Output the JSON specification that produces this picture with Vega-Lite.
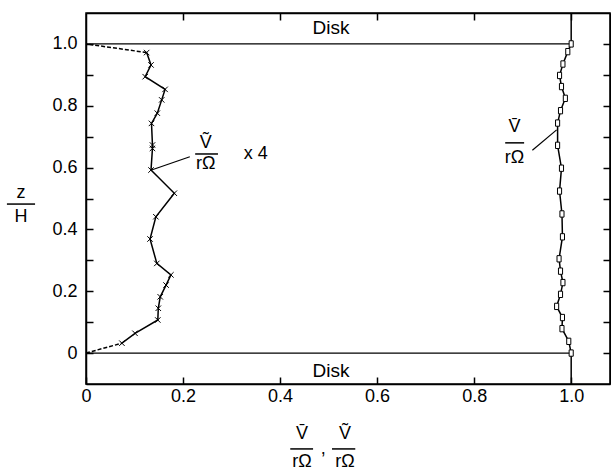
{
  "$schema": "https://vega.github.io/schema/vega-lite/v6.json",
  "width": 524,
  "height": 371,
  "autosize": {"type": "none"},
  "padding": {"left": 86, "top": 13, "right": 1, "bottom": 86},
  "background": "white",
  "config": {
    "font": "Liberation Sans",
    "view": {"stroke": "black", "strokeWidth": 1.5},
    "axis": {
      "domainColor": "black", "domainWidth": 1.5,
      "tickColor": "black", "tickWidth": 1.5,
      "labelColor": "black", "labelFont": "Liberation Sans", "labelFontSize": 18,
      "labelOverlap": false, "labelFlush": false, "grid": false, "title": null
    }
  },
  "resolve": {"axis": {"x": "independent", "y": "independent"}},
  "datasets": {
    "disk": [{"x": 0, "x2": 1, "z": 0}, {"x": 0, "x2": 1, "z": 1}],
    "wall": [{"x": 1, "z": 1, "z2": 1.1}, {"x": 1, "z": -0.1, "z2": 0}],
    "vtilde": [
      {"x": 0.125, "z": 0.972}, {"x": 0.134, "z": 0.932}, {"x": 0.122, "z": 0.894},
      {"x": 0.163, "z": 0.853}, {"x": 0.156, "z": 0.819}, {"x": 0.147, "z": 0.776},
      {"x": 0.135, "z": 0.743}, {"x": 0.137, "z": 0.673}, {"x": 0.137, "z": 0.662},
      {"x": 0.134, "z": 0.592}, {"x": 0.182, "z": 0.517}, {"x": 0.144, "z": 0.441},
      {"x": 0.132, "z": 0.369}, {"x": 0.146, "z": 0.29}, {"x": 0.175, "z": 0.253},
      {"x": 0.165, "z": 0.22}, {"x": 0.153, "z": 0.182}, {"x": 0.149, "z": 0.145},
      {"x": 0.148, "z": 0.107}, {"x": 0.101, "z": 0.064}, {"x": 0.074, "z": 0.032}
    ],
    "vtildeEnds": [
      {"seg": "top", "x": 0, "z": 1}, {"seg": "top", "x": 0.125, "z": 0.972},
      {"seg": "bottom", "x": 0.074, "z": 0.032}, {"seg": "bottom", "x": 0, "z": 0}
    ],
    "vbar": [
      {"x": 1.0, "z": 1.0}, {"x": 0.993, "z": 0.975}, {"x": 0.983, "z": 0.935},
      {"x": 0.976, "z": 0.898}, {"x": 0.98, "z": 0.862}, {"x": 0.988, "z": 0.824},
      {"x": 0.978, "z": 0.784}, {"x": 0.972, "z": 0.744}, {"x": 0.972, "z": 0.672},
      {"x": 0.98, "z": 0.598}, {"x": 0.976, "z": 0.524}, {"x": 0.981, "z": 0.45},
      {"x": 0.982, "z": 0.376}, {"x": 0.975, "z": 0.305}, {"x": 0.978, "z": 0.265},
      {"x": 0.983, "z": 0.228}, {"x": 0.978, "z": 0.19}, {"x": 0.97, "z": 0.151},
      {"x": 0.982, "z": 0.115}, {"x": 0.981, "z": 0.079}, {"x": 0.995, "z": 0.038},
      {"x": 1.0, "z": 0.0}
    ],
    "leaders": [
      {"x": 0.135, "z": 0.592, "x2": 0.214, "z2": 0.635},
      {"x": 0.92, "z": 0.656, "x2": 0.97, "z2": 0.722}
    ],
    "bars": [
      {"x": 0.225, "x2": 0.272, "z": 0.644},
      {"x": 0.864, "x2": 0.903, "z": 0.68},
      {"x": 0.421, "x2": 0.468, "z": -0.31},
      {"x": 0.507, "x2": 0.555, "z": -0.31},
      {"x": -0.163, "x2": -0.105, "z": 0.482}
    ],
    "disklabels": [{"x": 0.505, "z": 1.05, "t": "Disk"}, {"x": 0.505, "z": -0.058, "t": "Disk"}],
    "fractions": [
      {"x": 0.247, "z": 0.678, "t": "Ṽ"}, {"x": 0.247, "z": 0.61, "t": "rΩ"},
      {"x": 0.883, "z": 0.73, "t": "V̄"}, {"x": 0.883, "z": 0.63, "t": "rΩ"},
      {"x": 0.445, "z": -0.262, "t": "V̄"}, {"x": 0.445, "z": -0.352, "t": "rΩ"},
      {"x": 0.534, "z": -0.262, "t": "Ṽ"}, {"x": 0.534, "z": -0.352, "t": "rΩ"},
      {"x": -0.134, "z": 0.517, "t": "z"}, {"x": -0.134, "z": 0.441, "t": "H"}
    ],
    "notes": [{"x": 0.325, "z": 0.644, "t": "x  4"}],
    "comma": [{"x": 0.489, "z": -0.325, "t": ","}]
  },
  "encoding": {
    "x": {"field": "x", "type": "quantitative", "scale": {"domain": [0, 1.08], "nice": false, "zero": false}, "axis": null},
    "y": {"field": "z", "type": "quantitative", "scale": {"domain": [-0.1, 1.1], "nice": false, "zero": false}, "axis": null}
  },
  "layer": [
    {
      "data": {"name": "disk"},
      "mark": {"type": "rule", "color": "black", "strokeWidth": 1.2},
      "encoding": {
        "x": {
          "field": "x", "type": "quantitative",
          "scale": {"domain": [0, 1.08], "nice": false, "zero": false},
          "axis": {
            "orient": "bottom", "values": [0, 0.2, 0.4, 0.6, 0.8, 1],
            "labelExpr": "datum.value == 0 ? '0' : format(datum.value, '.1f')",
            "tickSize": -7, "labelPadding": 10
          }
        },
        "x2": {"field": "x2"},
        "y": {
          "field": "z", "type": "quantitative",
          "scale": {"domain": [-0.1, 1.1], "nice": false, "zero": false},
          "axis": {
            "orient": "left", "values": [0, 0.1, 0.2, 0.3, 0.4, 0.5, 0.6, 0.7, 0.8, 0.9, 1],
            "labelExpr": "round(datum.value * 10) % 2 == 0 ? (datum.value == 0 ? '0' : format(datum.value, '.1f')) : ''",
            "tickSize": -7, "labelPadding": 16
          }
        }
      }
    },
    {
      "data": {"name": "wall"},
      "mark": {"type": "rule", "color": "black", "strokeWidth": 1.5},
      "encoding": {
        "x": {
          "field": "x", "type": "quantitative",
          "scale": {"domain": [0, 1.08], "nice": false, "zero": false},
          "axis": {"orient": "top", "values": [0.2, 0.4, 0.6, 0.8, 1], "labels": false, "tickSize": -7}
        },
        "y": {
          "field": "z", "type": "quantitative",
          "scale": {"domain": [-0.1, 1.1], "nice": false, "zero": false},
          "axis": {"orient": "right", "values": [0, 0.1, 0.2, 0.3, 0.4, 0.5, 0.6, 0.7, 0.8, 0.9, 1], "labels": false, "tickSize": -7}
        },
        "y2": {"field": "z2"}
      }
    },
    {
      "data": {"name": "vtilde"},
      "mark": {"type": "line", "color": "black", "strokeWidth": 1.5},
      "encoding": {"order": {"field": "z", "type": "quantitative"}}
    },
    {
      "data": {"name": "vtildeEnds"},
      "mark": {"type": "line", "color": "black", "strokeWidth": 1.5, "strokeDash": [4, 2]},
      "encoding": {"detail": {"field": "seg"}, "order": {"field": "z", "type": "quantitative"}}
    },
    {
      "data": {"name": "vtilde"},
      "mark": {"type": "point", "shape": "M-1,-1L1,1M-1,1L1,-1", "filled": false, "stroke": "black", "strokeWidth": 1, "size": 30, "opacity": 1}
    },
    {
      "data": {"name": "vbar"},
      "mark": {"type": "line", "color": "black", "strokeWidth": 1.5},
      "encoding": {"order": {"field": "z", "type": "quantitative"}}
    },
    {
      "data": {"name": "vbar"},
      "mark": {"type": "point", "shape": "M-0.65,-1H0.65V1H-0.65Z", "filled": true, "fill": "white", "stroke": "black", "strokeWidth": 1, "size": 40, "opacity": 1}
    },
    {
      "data": {"name": "leaders"},
      "mark": {"type": "rule", "color": "black", "strokeWidth": 1.2},
      "encoding": {"x2": {"field": "x2"}, "y2": {"field": "z2"}}
    },
    {
      "data": {"name": "bars"},
      "mark": {"type": "rule", "color": "black", "strokeWidth": 1.5},
      "encoding": {"x2": {"field": "x2"}}
    },
    {
      "data": {"name": "disklabels"},
      "mark": {"type": "text", "font": "Liberation Sans", "fontSize": 19, "align": "center", "baseline": "middle", "color": "black"},
      "encoding": {"text": {"field": "t"}}
    },
    {
      "data": {"name": "fractions"},
      "mark": {"type": "text", "font": "Liberation Sans", "fontSize": 18, "align": "center", "baseline": "middle", "color": "black"},
      "encoding": {"text": {"field": "t"}}
    },
    {
      "data": {"name": "notes"},
      "mark": {"type": "text", "font": "Liberation Sans", "fontSize": 18, "align": "left", "baseline": "middle", "color": "black"},
      "encoding": {"text": {"field": "t"}}
    },
    {
      "data": {"name": "comma"},
      "mark": {"type": "text", "font": "Liberation Sans", "fontSize": 18, "align": "center", "baseline": "alphabetic", "color": "black"},
      "encoding": {"text": {"field": "t"}}
    }
  ]
}
